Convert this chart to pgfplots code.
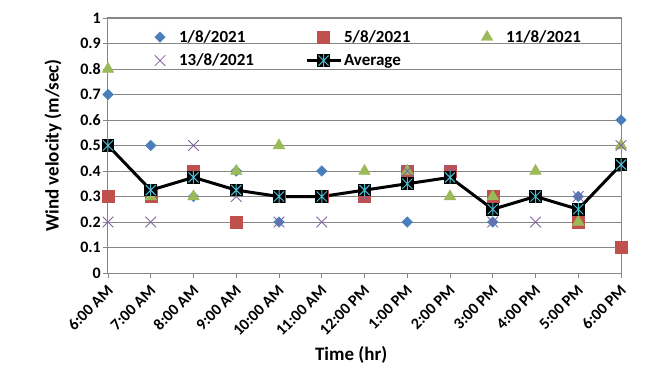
\documentclass[border=0pt]{standalone}
\usepackage{fontspec}
\setmainfont{Carlito}
\usepackage{pgfplots}
\usepackage{pgfplotstable}
\pgfplotsset{compat=1.18}

\definecolor{cblue}{RGB}{74,126,187}
\definecolor{cred}{RGB}{192,80,77}
\definecolor{cgreen}{RGB}{155,187,89}
\definecolor{cpurple}{RGB}{128,100,162}
\definecolor{ccyan}{RGB}{75,190,210}
\definecolor{gridgray}{RGB}{134,134,134}

% black square with a cyan star, as in the spreadsheet
\pgfdeclareplotmark{avgmark}{%
  \pgfpathrectangle{\pgfqpoint{-\pgfplotmarksize}{-\pgfplotmarksize}}{\pgfqpoint{2\pgfplotmarksize}{2\pgfplotmarksize}}%
  \pgfsetfillcolor{black}%
  \pgfusepathqfill
  \pgfsetstrokecolor{ccyan}%
  \pgfsetlinewidth{1pt}%
  \pgfpathmoveto{\pgfqpoint{-.8\pgfplotmarksize}{-.8\pgfplotmarksize}}%
  \pgfpathlineto{\pgfqpoint{.8\pgfplotmarksize}{.8\pgfplotmarksize}}%
  \pgfpathmoveto{\pgfqpoint{-.8\pgfplotmarksize}{.8\pgfplotmarksize}}%
  \pgfpathlineto{\pgfqpoint{.8\pgfplotmarksize}{-.8\pgfplotmarksize}}%
  \pgfpathmoveto{\pgfqpoint{0pt}{-\pgfplotmarksize}}%
  \pgfpathlineto{\pgfqpoint{0pt}{\pgfplotmarksize}}%
  \pgfusepathqstroke
}

% legend images 34pt wide, mark in the middle
\pgfplotsset{
  marklegend/.style={legend image code/.code={%
    \path[draw=none, fill=none] (0pt,-6pt) rectangle (34pt,6pt);
    \draw[##1] plot coordinates {(17pt,0pt)};}},
  linelegend/.style={legend image code/.code={%
    \draw[mark repeat=2,mark phase=2,##1] plot coordinates {(0pt,0pt) (17pt,0pt) (34pt,0pt)};}},
}

% wind velocity (m/sec) per hour, x = 0 is 6:00 AM
\pgfplotstableread{
x  d1  d5  d11 d13 avg
0  0.7 0.3 0.8 0.2 0.5
1  0.5 0.3 0.3 0.2 0.325
2  0.3 0.4 0.3 0.5 0.375
3  0.4 0.2 0.4 0.3 0.325
4  0.2 0.3 0.5 0.2 0.3
5  0.4 0.3 0.3 0.2 0.3
6  0.3 0.3 0.4 0.3 0.325
7  0.2 0.4 0.4 0.4 0.35
8  0.4 0.4 0.3 0.4 0.375
9  0.2 0.3 0.3 0.2 0.25
10 0.3 0.3 0.4 0.2 0.3
11 0.3 0.2 0.2 0.3 0.25
12 0.6 0.1 0.5 0.5 0.425
}\wind

\begin{document}
\begin{tikzpicture}
\begin{axis}[
    scale only axis,
    width=513pt, height=255pt,
    xmin=0, xmax=12, ymin=0, ymax=1,
    xtick={0,...,12},
    xticklabels={6:00 AM,7:00 AM,8:00 AM,9:00 AM,10:00 AM,11:00 AM,12:00 PM,1:00 PM,2:00 PM,3:00 PM,4:00 PM,5:00 PM,6:00 PM},
    ytick={0,0.1,...,1},
    yticklabels={0,0.1,0.2,0.3,0.4,0.5,0.6,0.7,0.8,0.9,1},
    xtick pos=bottom, ytick pos=left,
    tick align=outside,
    major tick length=5pt,
    tick style={gridgray, line width=0.8pt},
    axis line style={gridgray, line width=1pt},
    ymajorgrids,
    grid style={gridgray, line width=0.8pt},
    /pgf/number format/assume math mode=true,
    ticklabel style={font=\fontsize{16}{18}\selectfont\bfseries},
    yticklabel style={inner sep=2pt},
    xticklabel style={xshift=3pt, yshift=-9pt, rotate=45, anchor=east, inner sep=1pt},
    xlabel={Time (hr)},
    ylabel={Wind velocity (m/sec)},
    label style={font=\fontsize{19}{22}\selectfont\bfseries},
    xlabel style={at={(axis description cs:0.474,-0.322)}, anchor=center},
    ylabel style={at={(axis description cs:-0.107,0.5)}, anchor=center},
    clip=false,
    legend columns=3,
    legend cell align=left,
    legend style={at={(rel axis cs:0.068,0.96)}, anchor=north west,
        draw=none, fill=none, inner sep=0pt,
        font=\fontsize{17}{19}\selectfont\bfseries,
        row sep=6pt},
]
\addplot[only marks, mark=square*, mark size=3.7pt, cblue,
    mark options={rotate=45}, marklegend] table[x=x, y=d1] {\wind};
\addlegendentry{\makebox[124pt][l]{1/8/2021}}
\addplot[only marks, mark=square*, mark size=6pt, cred, marklegend] table[x=x, y=d5] {\wind};
\addlegendentry{\makebox[124pt][l]{5/8/2021}}
\addplot[only marks, mark=triangle*, mark size=6.7pt, cgreen, marklegend] table[x=x, y=d11] {\wind};
\addlegendentry{11/8/2021}
\addplot[only marks, mark=x, mark size=7.5pt, cpurple, line width=0.8pt, marklegend] table[x=x, y=d13] {\wind};
\addlegendentry{\makebox[124pt][l]{13/8/2021}}
\addplot[black, line width=3pt, mark=avgmark, mark size=6.3pt, linelegend]
    table[x=x, y=avg] {\wind};
\addlegendentry{Average}
\end{axis}
\pgfresetboundingbox
\path ([xshift=-108pt,yshift=-102pt]current axis.south west) rectangle ([xshift=49pt,yshift=18pt]current axis.north east);
\end{tikzpicture}
\end{document}
